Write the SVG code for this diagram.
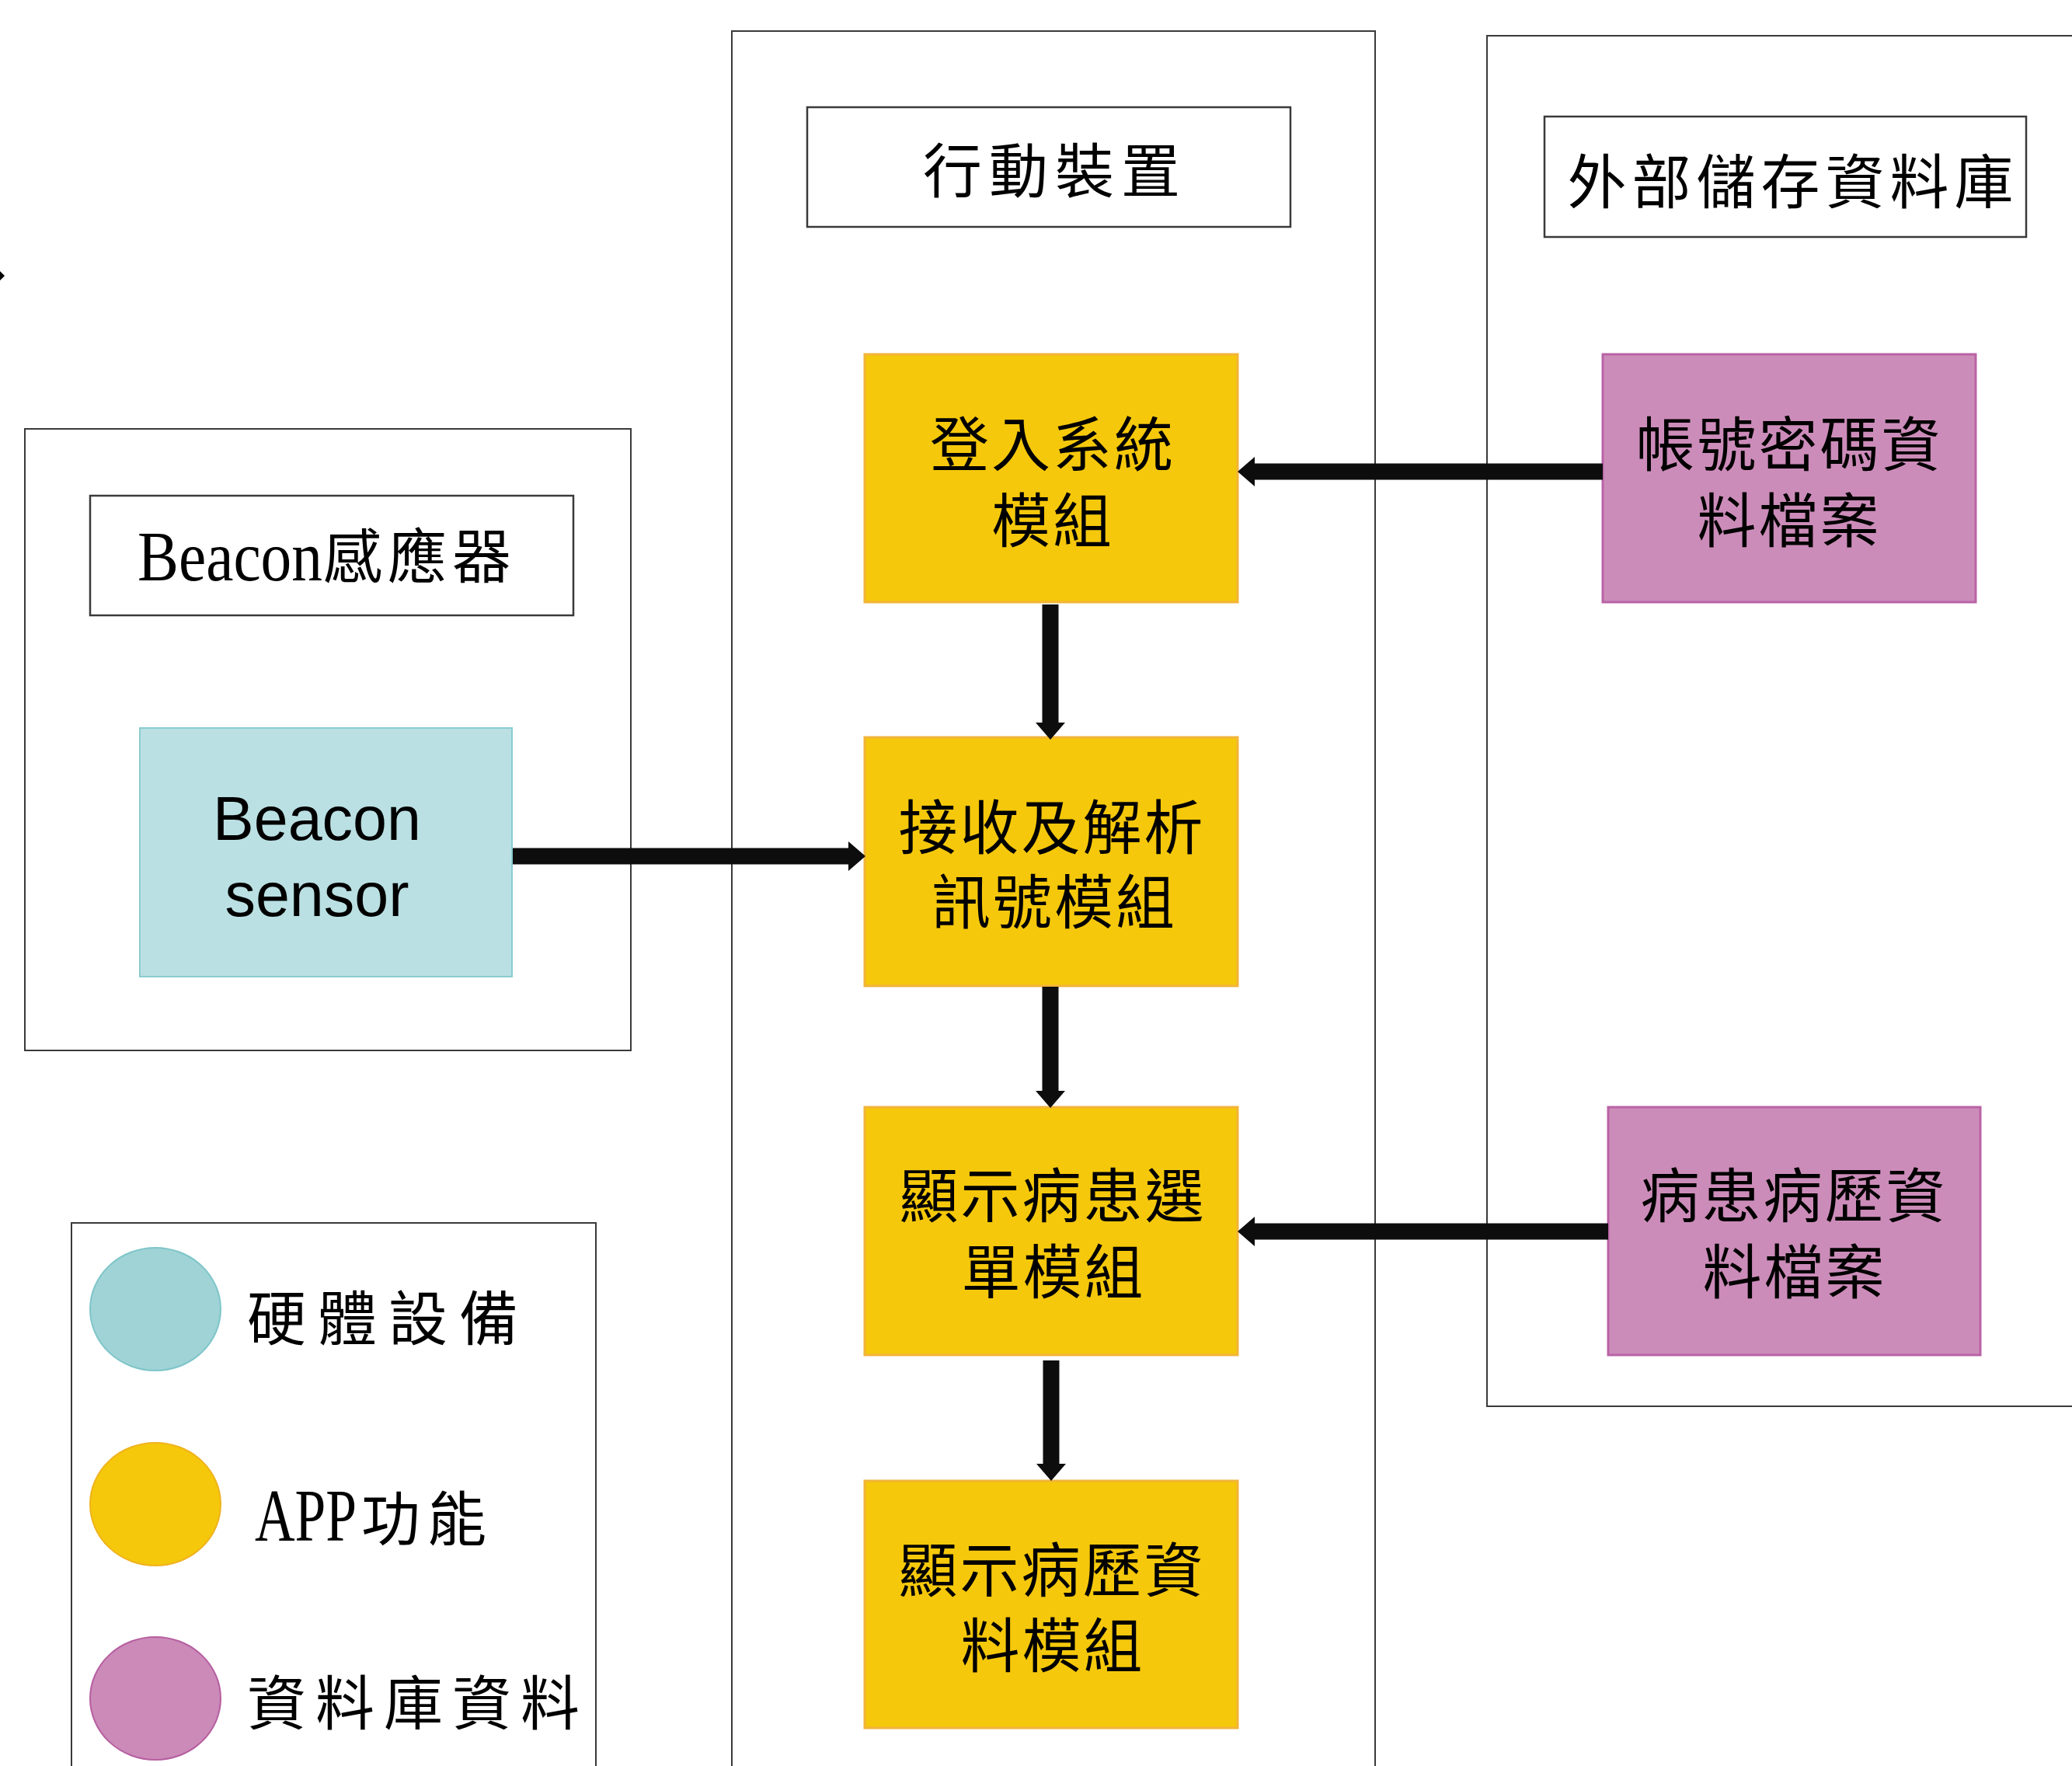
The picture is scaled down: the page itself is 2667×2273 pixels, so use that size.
<svg xmlns="http://www.w3.org/2000/svg" width="2667" height="2273" viewBox="0 0 2667 2273">
<style>
.frame{fill:#ffffff;stroke:#3a3a3a;stroke-width:2}
.title{fill:#ffffff;stroke:#3a3a3a;stroke-width:2.5}
.app{fill:#F5C80B;stroke:#F2B43A;stroke-width:3}
.db{fill:#CC8CB9;stroke:#B963A6;stroke-width:3}
.hw{fill:#BAE0E3;stroke:#8ACCD1;stroke-width:2}
.cjk{font-family:"Noto Sans CJK TC","Noto Sans CJK SC",sans-serif;font-size:76px;fill:#000;text-anchor:middle}
.cjkl{font-family:"Noto Sans CJK TC","Noto Sans CJK SC",sans-serif;font-size:76px;fill:#000}
.lat{font-family:"Liberation Serif",serif}
.sans{font-family:"Liberation Sans",Arial,sans-serif;font-size:79px;fill:#000;text-anchor:middle}
.conn{stroke:#0d0d0d;stroke-width:21;fill:none;marker-end:url(#ah)}
</style>
<defs>
<marker id="ah" markerUnits="userSpaceOnUse" viewBox="0 0 22 38" refX="0" refY="19" markerWidth="22" markerHeight="38" orient="auto">
<path d="M0,0 L22,19 L0,38 z" fill="#0d0d0d"/>
</marker>
</defs>
<rect width="2667" height="2273" fill="#ffffff"/>
<path d="M0,349 L6,355 L0,361 z" fill="#000"/>

<g id="beacon-group">
<rect class="frame" x="32" y="552" width="780" height="800"/>
<rect class="title" x="116" y="638" width="622" height="154"/>
<text class="cjkl" x="177" y="747"><tspan class="lat" font-size="91" textLength="238" lengthAdjust="spacingAndGlyphs">Beacon</tspan><tspan x="416" y="744" letter-spacing="7">感應器</tspan></text>
</g>

<g id="mobile-group">
<rect class="frame" x="942" y="40" width="828" height="2300"/>
<rect class="title" x="1039" y="138" width="622" height="154"/>
<text class="cjk" x="1358" y="248" letter-spacing="9">行動裝置</text>
</g>

<g id="storage-group">
<rect class="frame" x="1914" y="46" width="800" height="1764"/>
<rect class="title" x="1988" y="150" width="620" height="155"/>
<text class="cjk" x="2308" y="262" letter-spacing="7">外部儲存資料庫</text>
</g>

<g id="legend">
<rect class="frame" x="92" y="1574" width="675" height="760"/>
<ellipse cx="200" cy="1685" rx="84" ry="79" fill="#9FD3D6" stroke="#7EC5C9" stroke-width="2"/>
<ellipse cx="200" cy="1936" rx="84" ry="79" fill="#F5C80B" stroke="#EFB21E" stroke-width="2"/>
<ellipse cx="200" cy="2186" rx="84" ry="79" fill="#CB8AB8" stroke="#B65EA0" stroke-width="2"/>
<text class="cjkl" x="318" y="1725" letter-spacing="15">硬體設備</text>
<text class="cjkl" x="328" y="1983"><tspan class="lat" font-size="96" textLength="131" lengthAdjust="spacingAndGlyphs">APP</tspan><tspan x="465" letter-spacing="9">功能</tspan></text>
<text class="cjkl" x="318" y="2220" letter-spacing="12">資料庫資料</text>
</g>

<g id="beacon-sensor">
<rect class="hw" x="180" y="937" width="479" height="320"/>
<text class="sans" x="408" y="1081">Beacon<tspan x="408" y="1179">sensor</tspan></text>
</g>

<g id="login-module">
<rect class="app" x="1113" y="456" width="480" height="319"/>
<text class="cjk" x="1355" y="600" letter-spacing="3">登入系統<tspan x="1355" y="698">模組</tspan></text>
</g>

<g id="receive-module">
<rect class="app" x="1113" y="949" width="480" height="320"/>
<text class="cjk" x="1354" y="1093" letter-spacing="3">接收及解析<tspan x="1357" y="1189">訊號模組</tspan></text>
</g>

<g id="patient-list-module">
<rect class="app" x="1113" y="1425" width="480" height="319"/>
<text class="cjk" x="1355" y="1567" letter-spacing="3">顯示病患選<tspan x="1356" y="1665">單模組</tspan></text>
</g>

<g id="history-module">
<rect class="app" x="1113" y="1906" width="480" height="318"/>
<text class="cjk" x="1354" y="2049" letter-spacing="3">顯示病歷資<tspan x="1355" y="2146">料模組</tspan></text>
</g>

<g id="account-file">
<rect class="db" x="2063" y="456" width="480" height="319"/>
<text class="cjk" x="2303" y="600" letter-spacing="3">帳號密碼資<tspan x="2303" y="698">料檔案</tspan></text>
</g>

<g id="history-file">
<rect class="db" x="2070" y="1425" width="479" height="319"/>
<text class="cjk" x="2309" y="1567" letter-spacing="3">病患病歷資<tspan x="2310" y="1665">料檔案</tspan></text>
</g>

<g id="connectors">
<line class="conn" x1="2063" y1="607" x2="1615" y2="607"/>
<line class="conn" x1="1352" y1="778" x2="1352" y2="930"/>
<line class="conn" x1="660" y1="1102" x2="1092" y2="1102"/>
<line class="conn" x1="1352" y1="1270" x2="1352" y2="1404"/>
<line class="conn" x1="2070" y1="1585" x2="1615" y2="1585"/>
<line class="conn" x1="1353" y1="1751" x2="1353" y2="1884"/>
</g>
</svg>
